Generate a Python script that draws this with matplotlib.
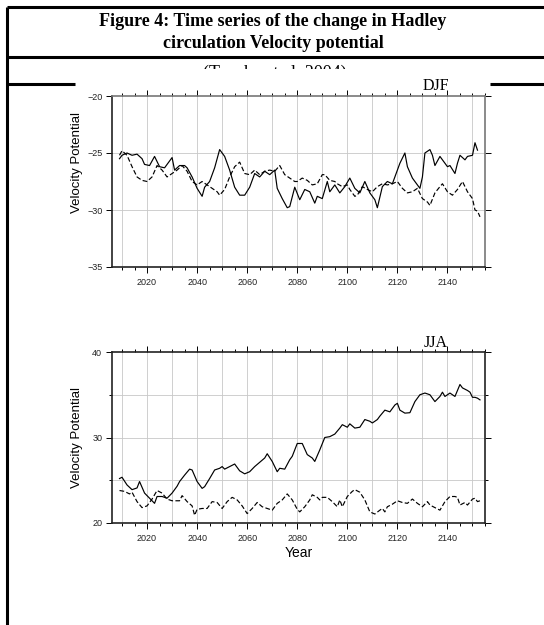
import numpy as np
import matplotlib
matplotlib.use("Agg")
import matplotlib.pyplot as plt
from matplotlib.lines import Line2D
from matplotlib.patches import Rectangle
from matplotlib.ticker import MultipleLocator, NullFormatter

plt.rcParams['font.family'] = ['Liberation Sans', 'DejaVu Sans']

# DJF, solid
djf_solid_yr = [2009, 2010, 2012, 2014, 2016, 2018, 2019, 2021, 2023, 2025, 2027, 2030, 2031,
                2033, 2035, 2036, 2038, 2040, 2042, 2043, 2045, 2047, 2049, 2051, 2053, 2055,
                2057, 2059, 2061, 2063, 2065, 2067, 2069, 2071, 2072, 2074, 2076, 2077, 2079,
                2081, 2083, 2085, 2087, 2088, 2090, 2092, 2093, 2095, 2097, 2099, 2101, 2103,
                2105, 2107, 2109, 2111, 2112, 2114, 2116, 2118, 2119, 2121, 2123, 2124, 2126,
                2128, 2129, 2130, 2131, 2133, 2134, 2135, 2137, 2139, 2140, 2141, 2143, 2144,
                2145, 2147, 2148, 2150, 2151, 2152]
djf_solid = [-25.5, -25.2, -25.0, -25.2, -25.1, -25.5, -26.0, -26.1, -25.3, -26.2, -26.3, -25.4, -26.5,
             -26.1, -26.1, -26.3, -27.1, -28.1, -28.8, -28.0, -27.5, -26.3, -24.7, -25.3, -26.5, -28.0,
             -28.7, -28.7, -28.0, -26.8, -27.1, -26.6, -26.9, -26.5, -28.1, -29.0, -29.8, -29.7, -28.0,
             -29.1, -28.2, -28.4, -29.4, -28.8, -29.0, -27.5, -28.4, -27.8, -28.5, -27.95, -27.2, -28.1,
             -28.5, -27.5, -28.5, -29.1, -29.8, -27.95, -27.5, -27.7, -27.1, -25.9, -25.0, -26.2, -27.2,
             -27.8, -28.1, -27.1, -25.0, -24.7, -25.2, -26.1, -25.3, -25.9, -26.2, -26.1, -26.8, -25.9,
             -25.2, -25.6, -25.3, -25.2, -24.1, -24.75]

# DJF, dashed
djf_dash_yr = [2009, 2010, 2012, 2014, 2016, 2018, 2020, 2022, 2024, 2026, 2028, 2030, 2032, 2034,
               2036, 2038, 2040, 2042, 2044, 2046, 2048, 2049, 2051, 2053, 2055, 2057, 2059, 2061,
               2063, 2065, 2067, 2069, 2071, 2073, 2075, 2077, 2079, 2080, 2082, 2084, 2086, 2088,
               2090, 2091, 2093, 2095, 2096, 2098, 2100, 2101, 2103, 2104, 2106, 2108, 2110, 2112,
               2114, 2116, 2118, 2120, 2122, 2124, 2126, 2128, 2130, 2132, 2133, 2135, 2137, 2138,
               2140, 2142, 2144, 2146, 2148, 2150, 2151, 2152, 2153]
djf_dash = [-25.2, -24.8, -25.2, -26.2, -27.1, -27.4, -27.5, -27.1, -26.1, -26.5, -27.1, -26.8, -26.5, -26.1,
            -26.6, -27.5, -27.8, -27.5, -27.8, -28.1, -28.4, -28.7, -28.2, -27.1, -26.2, -25.8, -26.8, -26.9,
            -26.5, -26.9, -26.6, -26.5, -26.6, -26.1, -26.9, -27.2, -27.5, -27.5, -27.2, -27.4, -27.8, -27.7,
            -26.9, -26.9, -27.4, -27.5, -27.7, -27.95, -27.8, -28.2, -28.8, -28.7, -27.95, -28.2, -28.4, -27.95,
            -27.7, -27.8, -27.7, -27.5, -28.1, -28.5, -28.4, -28.1, -29.0, -29.3, -29.6, -28.5, -27.95, -27.7,
            -28.4, -28.7, -28.2, -27.5, -28.4, -29.0, -30.0, -30.1, -30.6]

# JJA, solid
jja_solid_yr = [2009, 2010, 2012, 2014, 2016, 2017, 2019, 2021, 2023, 2024, 2026, 2028, 2030, 2032,
                2033, 2035, 2037, 2038, 2040, 2042, 2043, 2045, 2047, 2049, 2050, 2051, 2053, 2055,
                2057, 2059, 2061, 2063, 2065, 2067, 2068, 2070, 2072, 2073, 2075, 2077, 2078, 2080,
                2082, 2084, 2086, 2087, 2089, 2091, 2093, 2095, 2097, 2098, 2100, 2101, 2103, 2105,
                2107, 2109, 2110, 2112, 2113, 2115, 2117, 2119, 2120, 2121, 2123, 2125, 2127, 2129,
                2131, 2133, 2135, 2137, 2138, 2139, 2141, 2143, 2145, 2146, 2148, 2149, 2150, 2151,
                2152, 2153]
jja_solid = [25.2, 25.35, 24.45, 23.9, 24.1, 24.85, 23.5, 22.9, 22.3, 23.1, 23.1, 22.9, 23.5, 24.3,
             24.85, 25.6, 26.3, 26.2, 24.85, 24.05, 24.25, 25.2, 26.2, 26.4, 26.6, 26.3, 26.6, 26.9,
             26.1, 25.75, 26.0, 26.6, 27.1, 27.6, 28.1, 27.2, 26.0, 26.4, 26.3, 27.4, 27.8, 29.3,
             29.3, 28.0, 27.6, 27.2, 28.55, 30.0, 30.1, 30.4, 31.1, 31.5, 31.2, 31.6, 31.1, 31.2,
             32.1, 31.9, 31.7, 32.1, 32.5, 33.2, 33.0, 33.8, 34.0, 33.2, 32.85, 32.9, 34.2, 35.0,
             35.2, 35.0, 34.2, 34.8, 35.3, 34.8, 35.2, 34.8, 36.2, 35.8, 35.5, 35.3, 34.7, 34.7,
             34.6, 34.4]

# JJA, dashed
jja_dash_yr = [2009, 2011, 2013, 2014, 2016, 2018, 2020, 2022, 2024, 2026, 2028, 2030, 2032, 2033,
               2034, 2036, 2038, 2039, 2040, 2042, 2044, 2046, 2048, 2050, 2052, 2054, 2056, 2058,
               2060, 2062, 2064, 2066, 2068, 2070, 2072, 2074, 2076, 2078, 2080, 2081, 2083, 2085,
               2086, 2088, 2089, 2090, 2092, 2094, 2096, 2097, 2098, 2100, 2102, 2103, 2105, 2107,
               2109, 2111, 2113, 2114, 2115, 2116, 2118, 2120, 2122, 2124, 2126, 2128, 2129, 2130,
               2132, 2133, 2135, 2137, 2139, 2141, 2143, 2144, 2145, 2147, 2148, 2150, 2151, 2152, 2153]
jja_dash = [23.8, 23.7, 23.4, 23.6, 22.5, 21.8, 22.0, 22.8, 23.8, 23.5, 22.8, 22.6, 22.6, 22.6,
            23.2, 22.5, 22.0, 20.9, 21.6, 21.7, 21.7, 22.5, 22.4, 21.7, 22.5, 23.0, 22.7, 22.0,
            21.1, 21.7, 22.4, 21.9, 21.7, 21.5, 22.3, 22.7, 23.4, 22.7, 21.6, 21.3, 21.9, 22.7,
            23.3, 23.0, 22.7, 23.0, 23.0, 22.5, 21.9, 22.7, 21.9, 23.1, 23.7, 23.9, 23.6, 22.7,
            21.3, 21.05, 21.5, 21.7, 21.3, 21.9, 22.2, 22.6, 22.4, 22.3, 22.8, 22.3, 22.1, 21.9,
            22.5, 22.1, 21.8, 21.5, 22.5, 23.1, 23.1, 23.0, 22.1, 22.4, 22.1, 22.8, 22.9, 22.5, 22.6]

W, H = 544, 625
fig = plt.figure(figsize=(W / 100, H / 100), dpi=100)


def fx(px):
    return px / W


def fy(py):
    return 1 - py / H


# page frame and rules
for (x0, x1, y0, y1) in [(7, 7, 7, 625), (7, 544, 7, 7), (7, 544, 57, 57),
                         (7, 75, 84, 84), (490, 544, 84, 84)]:
    fig.add_artist(Line2D([fx(x0), fx(x1)], [fy(y0), fy(y1)], color='black', lw=2.2,
                          solid_capstyle='butt', zorder=6))

fig.text(fx(273), fy(22), 'Figure 4: Time series of the change in Hadley', ha='center', va='center',
         family='Liberation Serif', weight='bold', fontsize=13)
fig.text(fx(273), fy(43), 'circulation Velocity potential', ha='center', va='center',
         family='Liberation Serif', weight='bold', fontsize=13)
# citation line, lower part hidden under the pasted plot
fig.text(fx(275), fy(64.5), '(Tanaka et al. 2004)', ha='center', va='top',
         family='Liberation Serif', fontsize=13, zorder=3)
fig.add_artist(Rectangle((fx(9), fy(83)), fx(535), fy(69.5) - fy(83), facecolor='white',
                         edgecolor='none', zorder=5))


def setup(ax, ylim, ymaj, ymin):
    ax.set_xlim(2006, 2155)
    ax.set_ylim(*ylim)
    for yr in np.arange(2010, 2160, 10):
        ax.axvline(yr, color='#c8c8c8', lw=0.6, zorder=0)
    for v in np.arange(ylim[0] + ymin, ylim[1], ymin):
        ax.axhline(v, color='#c8c8c8', lw=0.6, zorder=0)
    ax.xaxis.set_major_locator(MultipleLocator(20))
    ax.xaxis.set_minor_locator(MultipleLocator(5))
    ax.yaxis.set_major_locator(MultipleLocator(ymaj))
    ax.yaxis.set_minor_locator(MultipleLocator(ymin))
    ax.yaxis.set_minor_formatter(NullFormatter())
    ax.tick_params(which='both', direction='out', top=True, right=True, labelsize=6.5,
                   labelcolor='#222222', width=0.7, pad=3)
    ax.tick_params(which='major', length=4)
    ax.tick_params(which='minor', length=2.5)
    ax.tick_params(axis='x', labeltop=False, pad=4)
    ax.tick_params(axis='y', labelright=False)
    for s in ax.spines.values():
        s.set_linewidth(1.2)
        s.set_color('#222222')
    ax.set_ylabel('Velocity Potential', fontsize=9.5)


ax1 = fig.add_axes([fx(112), fy(267), fx(485) - fx(112), fy(96) - fy(267)])
setup(ax1, (-35, -20), 5, 5)
ax1.plot(djf_solid_yr, djf_solid, color='black', lw=0.85)
ax1.plot(djf_dash_yr, djf_dash, color='black', lw=0.85, dashes=(4, 2))
ax1.yaxis.set_label_coords(-0.078, 0.61)
ax1.set_xticks(np.arange(2020, 2150, 20))
ax1.spines['right'].set_color('#777777')
ax1.spines['top'].set_color('#777777')

ax2 = fig.add_axes([fx(112), fy(523), fx(485) - fx(112), fy(352) - fy(523)])
setup(ax2, (20, 40), 10, 5)
ax2.plot(jja_solid_yr, jja_solid, color='black', lw=0.85)
ax2.plot(jja_dash_yr, jja_dash, color='black', lw=0.85, dashes=(4, 2))
ax2.yaxis.set_label_coords(-0.078, 0.5)
ax2.set_xticks(np.arange(2020, 2150, 20))
ax2.set_xlabel('Year', fontsize=10, labelpad=2)

fig.text(fx(436), fy(90), 'DJF', ha='center', va='baseline', family='Liberation Serif',
         fontsize=11.5, zorder=7)
fig.text(fx(436), fy(347), 'JJA', ha='center', va='baseline', family='Liberation Serif',
         fontsize=11.5, zorder=7)

fig.savefig('out.png', dpi=100)
